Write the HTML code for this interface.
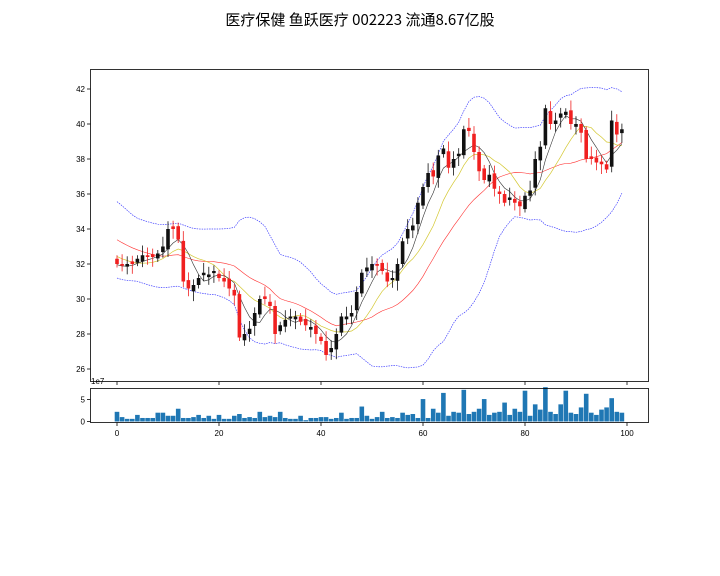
<!DOCTYPE html>
<html><head><meta charset="utf-8">
<style>
html,body{margin:0;padding:0;background:#fff;}
svg{display:block;font-family:"Liberation Sans","DejaVu Sans",sans-serif;}
</style></head>
<body>
<svg id="s" width="720" height="576" viewBox="0 0 720 576" xmlns="http://www.w3.org/2000/svg">
<rect width="720" height="576" fill="#fff"/>
<text x="360" y="25" text-anchor="middle" font-size="15" font-family="'Noto Sans CJK SC','WenQuanYi Zen Hei',sans-serif">医疗保健 鱼跃医疗 002223 流通8.67亿股</text>
<g id="g"></g>
<rect x="90.5" y="69.5" width="558" height="312" fill="none" stroke="#000" stroke-width="0.8"/>
<rect x="90.5" y="388.5" width="558" height="34" fill="none" stroke="#000" stroke-width="0.8"/>
<text x="91" y="384" font-size="8">1e7</text>
</svg>
<script>
var P=[35.5,35.2,35,34.8,34.6,34.5,34.3,34,33.8,33.6,33.5,33.2,33,33,32.8,32.5,32.3,32,31.8,31.7];
var C=[32.0,31.9,32.0,32.0,32.3,32.5,32.4,32.4,32.6,33.0,34.0,34.0,33.4,31.0,30.6,30.8,31.2,31.5,31.4,31.6,31.2,31.0,30.6,30.2,27.8,28.0,28.3,29.2,30.0,30.0,29.6,28.0,28.5,28.8,29.0,29.0,28.7,28.5,28.4,28.0,27.6,26.8,27.2,28.0,29.0,29.0,29.2,30.4,31.5,31.8,32.0,31.9,31.6,31.0,31.2,32.0,33.3,34.0,34.2,35.5,36.4,37.2,37.0,38.2,38.6,37.5,38.0,38.3,39.7,39.6,38.4,37.3,36.8,37.1,36.3,36.0,35.5,35.8,35.5,35.3,35.9,36.2,38.0,38.7,40.9,40.0,40.2,40.6,40.7,40.0,40.0,39.5,38.0,38.0,37.8,37.7,37.4,40.2,39.4,39.7];
var V=[2.2,1,.6,.6,1.5,.8,.8,.8,2,2,1.3,1.3,2.9,.8,.8,1,1.5,.8,1.3,.6,1.5,.6,.6,1.3,1.7,.8,1,.8,2.2,1,1.3,1,2.2,.8,.6,.6,1.3,.3,.8,.8,1,1,.6,.8,2,.6,.8,.8,3.4,1.3,.6,1,2.2,.8,1,.8,2,1.5,1.7,.8,5.1,.8,2.9,2,6.5,1.3,2.2,2,7.2,1.7,2.2,2.9,5.1,1.5,2,2.2,4.3,1.5,2.9,2.2,7,1.3,3.9,2.7,7.8,2.2,1.7,3.9,7,2,1.7,3.2,6.3,2,1.5,2.7,3.2,5.3,2.2,2];
var A=P.concat(C),OF=P.length;
function X(i){return 117+i*5.1;}
function Y(v){return 89+(42-v)*17.5;}
var h='';
for(var v=26;v<=42;v+=2){var y=Y(v);h+='<line x1="87" x2="90.5" y1="'+y+'" y2="'+y+'" stroke="#000" stroke-width="0.8"/><text x="85" y="'+(y+3)+'" font-size="8" text-anchor="end">'+v+'</text>';}
for(var t=0;t<=100;t+=20){var x=X(t);h+='<line x1="'+x+'" x2="'+x+'" y1="381.5" y2="385" stroke="#000" stroke-width="0.8"/><line x1="'+x+'" x2="'+x+'" y1="422.5" y2="426" stroke="#000" stroke-width="0.8"/><text x="'+x+'" y="436" font-size="8" text-anchor="middle">'+t+'</text>';}
[[0,421.5],[5,399.5]].forEach(function(p){h+='<line x1="87" x2="90.5" y1="'+p[1]+'" y2="'+p[1]+'" stroke="#000" stroke-width="0.8"/><text x="85" y="'+(p[1]+3)+'" font-size="8" text-anchor="end">'+p[0]+'</text>';});
for(var i=0;i<V.length;i++){var hh=V[i]*4.4;h+='<rect x="'+(X(i)-2.3)+'" y="'+(421.5-hh)+'" width="4.6" height="'+hh+'" fill="#1f77b4"/>';}
function ma(n){var r=[];for(var i=0;i<C.length;i++){var k=i+OF,s=0;for(var j=k-n+1;j<=k;j++)s+=A[j];r.push(s/n);}return r;}
function line(arr,col,w,dash){var p='';for(var i=0;i<arr.length;i++)p+=(i?'L':'M')+X(i).toFixed(1)+' '+Y(arr[i]).toFixed(1);return '<path d="'+p+'" fill="none" stroke="'+col+'" stroke-width="'+w+'" '+(dash?'stroke-dasharray="1.5,1"':'')+'/>';}
var m20=ma(20),up=[],dn=[];
for(var i=0;i<C.length;i++){var k=i+OF,s=0;for(var j=k-19;j<=k;j++)s+=(A[j]-m20[i])*(A[j]-m20[i]);var sd=Math.sqrt(s/20);sd=Math.max(sd,0.9);up.push(m20[i]+2*sd);dn.push(m20[i]-2*sd);}
h+=line(up,'#4040ff',0.7,1)+line(dn,'#4040ff',0.7,1);
h+=line(m20,'#ff3030',0.6)+line(ma(10),'#d4c832',0.7)+line(ma(5),'#333',0.6);
for(var i=0;i<C.length;i++){var o=i?C[i-1]+((i*7)%5-2)*0.08:32.3,c=C[i];if(Math.abs(o-c)<0.1)o=c+(i%2?0.15:-0.15);
var hi=Math.max(o,c)+0.2+((i*3)%4)*0.12,lo=Math.min(o,c)-0.2-((i*5)%4)*0.12;var col=c>=o?'#111':'#f02020';
h+='<line x1="'+X(i)+'" x2="'+X(i)+'" y1="'+Y(hi)+'" y2="'+Y(lo)+'" stroke="'+col+'" stroke-width="0.8"/>';
var y1=Y(Math.max(o,c)),y2=Y(Math.min(o,c));h+='<rect x="'+(X(i)-1.8)+'" y="'+y1+'" width="3.6" height="'+Math.max(1,y2-y1)+'" fill="'+col+'"/>';}
document.getElementById('g').innerHTML=h;
</script>
</body></html>
